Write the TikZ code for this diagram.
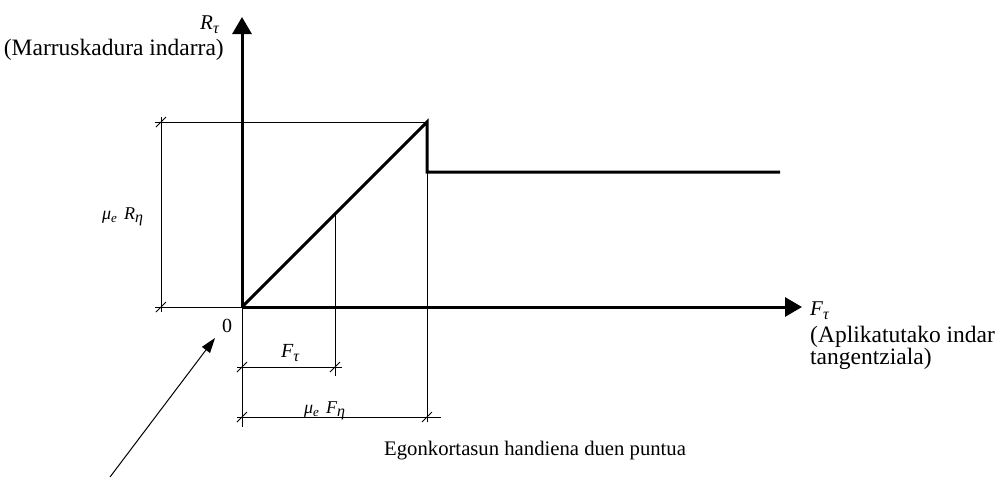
\documentclass[tikz,border=0pt]{standalone}
\usepackage{fontspec}
\setmainfont{Liberation Serif}
\usetikzlibrary{arrows.meta}
\newcommand\subsym[2]{\raisebox{-0.2em}{\fontsize{#1}{#1}\selectfont\itshape #2}}
\begin{document}
\begin{tikzpicture}[x=1pt,y=-1pt,
  thickl/.style={line width=3pt},
  thinl/.style={line width=1pt},
  tick/.style={line width=1pt},
  txt/.style={inner sep=0pt,font=\fontsize{23.5}{22}\selectfont},
  txts/.style={inner sep=0pt,font=\fontsize{20.7}{22}\selectfont},
  symbig/.style={inner sep=0pt,font=\fontsize{21}{21}\selectfont\itshape},
  symmid/.style={inner sep=0pt,font=\fontsize{20}{20}\selectfont\itshape},
  symsm/.style={inner sep=0pt,font=\fontsize{18}{18}\selectfont\itshape},
  axtip/.style={-{Triangle[length=17pt,width=19pt]}}]
\useasboundingbox (0,0) rectangle (995,477);
% key points
\coordinate (O) at (242,307);
\coordinate (ytop) at (242,17);
\coordinate (xend) at (802,307);
\coordinate (P) at (427,122);
\coordinate (Pd) at (427,172);
\coordinate (Pe) at (780,172);
\coordinate (M) at (335,214);
% axes
\draw[thickl,axtip] (O) -- (ytop);
\draw[thickl,axtip] (O) -- (xend);
% curve
\draw[thickl,line join=miter] (O) -- (P) -- (Pd) -- (Pe);
% extension lines
\coordinate (e1a) at (155,122);
\coordinate (e2a) at (155,307);
\draw[thinl] (e1a) -- (P);
\draw[thinl] (e2a) -- (O);
\coordinate (vb0) at (242,427);
\coordinate (vb1) at (335,376);
\coordinate (vb2) at (427,422);
\draw[thinl] (O) -- (vb0);
\draw[thinl] (M) -- (vb1);
\draw[thinl] (P) -- (vb2);
% vertical dimension
\coordinate (d1a) at (161,117);
\coordinate (d1b) at (161,312);
\draw[thinl] (d1a) -- (d1b);
% horizontal dimensions
\coordinate (d2a) at (237,367);
\coordinate (d2b) at (342,367);
\draw[thinl] (d2a) -- (d2b);
\coordinate (d3a) at (237,417);
\coordinate (d3b) at (441,417);
\draw[thinl] (d3a) -- (d3b);
% ticks
\foreach \p in {(161,122),(161,307),(242,367),(335,367),(242,417),(427,417)}
  \draw[tick] \p ++(-5,5) -- ++(10,-10);
% labels
\node[symbig,anchor=base west] (Rt) at (200,29) {R\subsym{16}{τ}};
\node[txt,anchor=base east] (Rtx) at (224,55) {(Marruskadura indarra)};
\node[txt,font=\fontsize{20}{20}\selectfont] (zero) at (227,326) {0};
\node[symmid,anchor=base west] (Ftd) at (281,357) {F\subsym{16}{τ}};
\node[symsm,anchor=base west] (mFd) at (304,413) {μ\subsym{13}{e}\hspace{7pt}F\subsym{16}{η}};
\node[symsm,anchor=base west] (mRd) at (102,219) {μ\subsym{13}{e}\hspace{7pt}R\subsym{16}{η}};
\node[symbig,anchor=base west] (Ft) at (810,315) {F\subsym{16}{τ}};
\node[txt,anchor=base west] (Ftx1) at (810,342) {(Aplikatutako indar};
\node[txt,anchor=base west] (Ftx2) at (810,364) {tangentziala)};
\node[txts,anchor=base west] (eg) at (384,455) {Egonkortasun handiena duen puntua};
% pointer arrow
\coordinate (arS) at (110,477);
\coordinate (arT) at (215,338);
\draw[thinl,-{Triangle[length=15pt,width=10pt]}] (arS) -- (arT);
\end{tikzpicture}
\end{document}
